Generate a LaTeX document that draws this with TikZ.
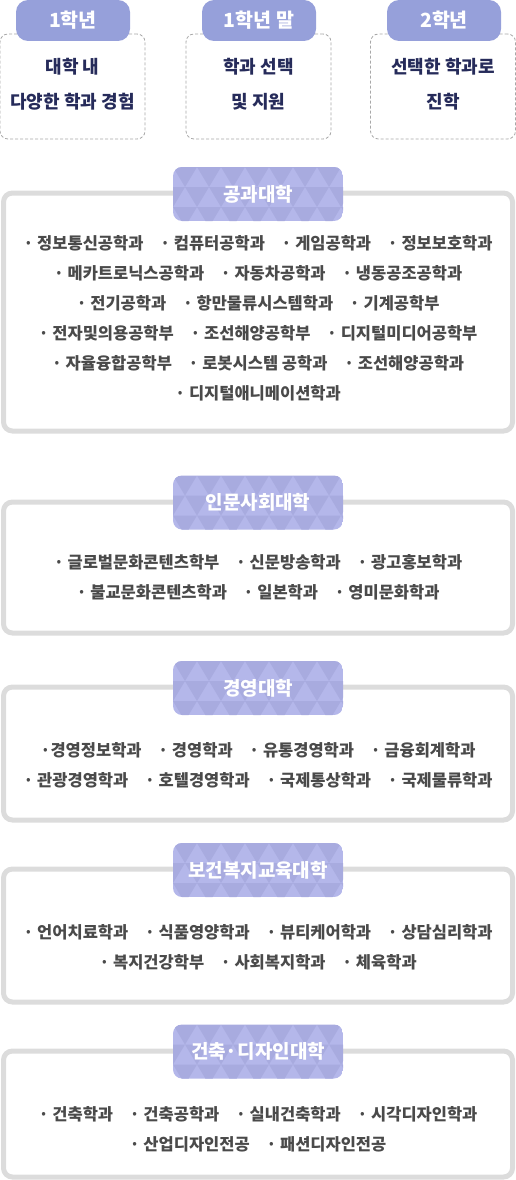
\documentclass[tikz,border=0pt]{standalone}
\usepackage{fontspec}
\usepackage{xcolor}
\newfontfamily\kr{Noto Sans CJK KR}
\usetikzlibrary{positioning}
\definecolor{pillblue}{HTML}{96A0DA}
\definecolor{pillbase}{HTML}{B4B7EA}
\definecolor{pilldark}{HTML}{A8ABDF}
\definecolor{navytext}{HTML}{262B5A}
\definecolor{itemtext}{HTML}{4A4A4A}
\definecolor{framegray}{HTML}{DCDCDC}
\definecolor{dashgray}{HTML}{A8A8A8}

\tikzset{
  stagebox/.style={draw=dashgray, dash pattern=on 3pt off 2pt, line width=0.8pt,
    rounded corners=8pt, minimum width=145pt, minimum height=105pt},
  stagepill/.style={fill=pillblue, rounded corners=12pt, minimum width=114pt,
    minimum height=41pt, text=white, font=\kr\bfseries\fontsize{19.5}{20}\selectfont},
  stagetext/.style={text=navytext, align=center, font=\kr\bfseries\fontsize{18}{35}\selectfont},
  collegebox/.style={draw=framegray, line width=5pt, rounded corners=9pt},
  collegetitle/.style={text=white, font=\kr\bfseries\fontsize{19}{20}\selectfont},
  deptline/.style={text=itemtext, font=\kr\bfseries\fontsize{16.5}{17}\selectfont},
}

% triangle pattern behind a college title, #1 = centre y
\newcommand{\patternpill}[1]{%
  \begin{scope}
    \clip[rounded corners=9pt] (173,#1-27) rectangle (343,#1+27);
    \fill[pillbase] (173,#1-27) rectangle (343,#1+27);
    \foreach \r in {0,1,2}
      \foreach \c in {0,...,8}
        \fill[pilldark] ({173-12*mod(\r,2)+24*\c},{#1-27+20*\r}) -- ++(24,0) -- ++(-12,20) -- cycle;
  \end{scope}}

\begin{document}
\begin{tikzpicture}[x=1pt, y=-1pt]
  \useasboundingbox (0,0) rectangle (516,1180);

  % stages
  \node[stagebox] (stageA) at (72.5,86.5) {};
  \node[stagebox] (stageB) at (258.5,86.5) {};
  \node[stagebox] (stageC) at (443,86.5) {};
  \node[stagepill] (pillA) at (73,20.5) {1학년};
  \node[stagepill] (pillB) at (259,20.5) {1학년 말};
  \node[stagepill] (pillC) at (444,20.5) {2학년};
  \node[stagetext] (textA) at (72.5,84.5) {대학 내\\다양한 학과 경험};
  \node[stagetext] (textB) at (258.5,84.5) {학과 선택\\및 지원};
  \node[stagetext] (textC) at (443,84.5) {선택한 학과로\\진학};

  % 공과대학
  \draw[collegebox] (3.5,193) rectangle (512.5,431);
  \patternpill{194}
  \node[collegetitle] (engTitle) at (258,194) {공과대학};
  \foreach \txt [count=\i] in {
      {· 정보통신공학과\quad · 컴퓨터공학과\quad · 게임공학과\quad · 정보보호학과},
      {· 메카트로닉스공학과\quad · 자동차공학과\quad · 냉동공조공학과},
      {· 전기공학과\quad · 항만물류시스템학과\quad · 기계공학부},
      {· 전자및의용공학부\quad · 조선해양공학부\quad · 디지털미디어공학부},
      {· 자율융합공학부\quad · 로봇시스템 공학과\quad · 조선해양공학과},
      {· 디지털애니메이션학과}}
    \node[deptline] (eng\i) at (258,{213+30*\i}) {\txt};

  % 인문사회대학
  \draw[collegebox] (3.5,502) rectangle (512.5,633);
  \patternpill{502.5}
  \node[collegetitle] (humTitle) at (258,502.5) {인문사회대학};
  \foreach \txt [count=\i] in {
      {· 글로벌문화콘텐츠학부\quad · 신문방송학과\quad · 광고홍보학과},
      {· 불교문화콘텐츠학과\quad · 일본학과\quad · 영미문화학과}}
    \node[deptline] (hum\i) at (258,{532+30*\i}) {\txt};

  % 경영대학
  \draw[collegebox] (3.5,687) rectangle (512.5,820);
  \patternpill{688}
  \node[collegetitle] (bizTitle) at (258,688) {경영대학};
  \foreach \txt [count=\i] in {
      {·경영정보학과\quad · 경영학과\quad · 유통경영학과\quad · 금융회계학과},
      {· 관광경영학과\quad · 호텔경영학과\quad · 국제통상학과\quad · 국제물류학과}}
    \node[deptline] (biz\i) at (258,{720+30*\i}) {\txt};

  % 보건복지교육대학
  \draw[collegebox] (3.5,869) rectangle (512.5,1002);
  \patternpill{870}
  \node[collegetitle] (welTitle) at (258,870) {보건복지교육대학};
  \foreach \txt [count=\i] in {
      {· 언어치료학과\quad · 식품영양학과\quad · 뷰티케어학과\quad · 상담심리학과},
      {· 복지건강학부\quad · 사회복지학과\quad · 체육학과}}
    \node[deptline] (wel\i) at (258,{902+30*\i}) {\txt};

  % 건축·디자인대학
  \draw[collegebox] (3.5,1051) rectangle (512.5,1177);
  \patternpill{1051.5}
  \node[collegetitle] (desTitle) at (258,1051.5) {건축·디자인대학};
  \foreach \txt [count=\i] in {
      {· 건축학과\quad · 건축공학과\quad · 실내건축학과\quad · 시각디자인학과},
      {· 산업디자인전공\quad · 패션디자인전공}}
    \node[deptline] (des\i) at (258,{1084+30*\i}) {\txt};
\end{tikzpicture}
\end{document}
